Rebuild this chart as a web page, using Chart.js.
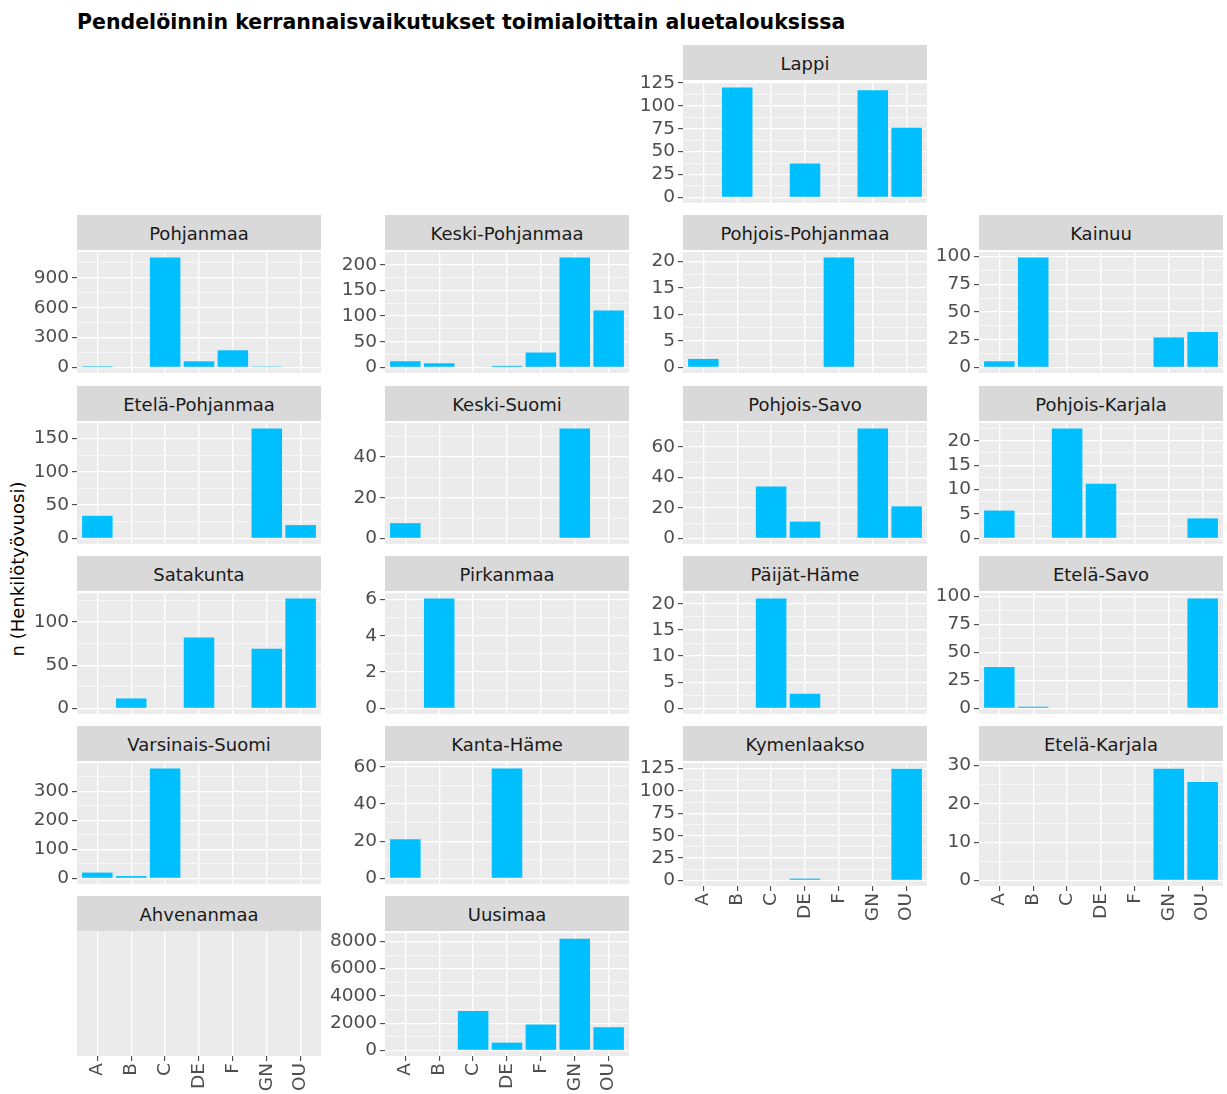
<!DOCTYPE html>
<html>
<head>
<meta charset="utf-8">
<script src="https://cdn.jsdelivr.net/npm/chart.js@4.4.1/dist/chart.umd.min.js"></script>
<style>
body { margin: 0; width: 1227px; height: 1094px; overflow: hidden; position: relative; background: #fff; font-family: 'DejaVu Sans', sans-serif; }
.strip { position: absolute; height: 35px; line-height: 37px; background: #d9d9d9; color: #1a1a1a; font-size: 18px; text-align: center; white-space: nowrap; }
canvas { position: absolute; }
#title { position: absolute; left: 77px; top: 9px; line-height: 26px; font-size: 20.5px; font-weight: bold; color: #000; white-space: nowrap; }
#ytitle { position: absolute; left: -132px; top: 559px; width: 300px; line-height: 20px; font-size: 18px; text-align: center; color: #000; transform: rotate(-90deg); }
</style>
</head>
<body>
<div id="title">Pendelöinnin kerrannaisvaikutukset toimialoittain aluetalouksissa</div>
<div id="ytitle">n (Henkilötyövuosi)</div>
<script>
// toimialat (x-akseli)
var categories = ['A', 'B', 'C', 'DE', 'F', 'GN', 'OU']

// henkilötyövuodet per toimiala, null = ei havaintoa
var lappi            = [null, 120, null, 37, null, 117, 76]
var pohjanmaa        = [12, null, 1104, 61, 172, 10, null]
var keskiPohjanmaa   = [12, 8, null, 3, 29, 214, 111]
var pohjoisPohjanmaa = [1.6, null, null, null, 20.7, null, null]
var kainuu           = [5.5, 99, null, null, null, 27, 32]
var etelaPohjanmaa   = [34, null, null, null, null, 165, 20]
var keskiSuomi       = [7.5, null, null, null, null, 54, null]
var pohjoisSavo      = [null, null, 34, 11, null, 72, 21]
var pohjoisKarjala   = [5.7, null, 22.5, 11.2, null, null, 4.1]
var satakunta        = [null, 11.5, null, 82, null, 69, 127]
var pirkanmaa        = [null, 6.05, null, null, null, null, null]
var paijatHame       = [null, null, 21, 2.8, null, null, null]
var etelaSavo        = [37, 1.5, null, null, null, null, 98]
var varsinaisSuomi   = [20, 8, 378, null, null, null, null]
var kantaHame        = [21, null, null, 59, null, null, null]
var kymenlaakso      = [null, null, null, 2, null, null, 125]
var etelaKarjala     = [null, null, null, null, null, 29.2, 25.7]
var ahvenanmaa       = [null, null, null, null, null, null, null]
var uusimaa          = [null, null, 2900, 570, 1900, 8200, 1700]

var regions = ['Lappi', 'Pohjanmaa', 'Keski-Pohjanmaa', 'Pohjois-Pohjanmaa', 'Kainuu',
    'Etelä-Pohjanmaa', 'Keski-Suomi', 'Pohjois-Savo', 'Pohjois-Karjala',
    'Satakunta', 'Pirkanmaa', 'Päijät-Häme', 'Etelä-Savo',
    'Varsinais-Suomi', 'Kanta-Häme', 'Kymenlaakso', 'Etelä-Karjala',
    'Ahvenanmaa', 'Uusimaa']
var regionValues = [lappi, pohjanmaa, keskiPohjanmaa, pohjoisPohjanmaa, kainuu,
    etelaPohjanmaa, keskiSuomi, pohjoisSavo, pohjoisKarjala,
    satakunta, pirkanmaa, paijatHame, etelaSavo,
    varsinaisSuomi, kantaHame, kymenlaakso, etelaKarjala,
    ahvenanmaa, uusimaa]
// y-akselin jakoväli
var yStep = [25, 300, 50, 5, 25, 50, 20, 20, 5, 50, 2, 5, 25, 100, 20, 25, 10, null, 2000]

// paikka ruudukossa [rivi, sarake]
var gridPos = [[0, 2], [1, 0], [1, 1], [1, 2], [1, 3],
    [2, 0], [2, 1], [2, 2], [2, 3],
    [3, 0], [3, 1], [3, 2], [3, 3],
    [4, 0], [4, 1], [4, 2], [4, 3],
    [5, 0], [5, 1]]

var colLeft = [77, 385, 683, 979]
var rowTop = [45, 215, 386, 556, 726, 896]
var PLOT_W = 244, PLOT_H = 125, STRIP_H = 35
var AXIS_W = 62, PAD = 12, XLAB_H = 48

var panelBg = {
    id: 'panelBg',
    beforeDraw: function(chart) {
        var a = chart.chartArea
        var ctx = chart.ctx
        ctx.save()
        ctx.fillStyle = '#ebebeb'
        ctx.fillRect(a.left, a.top, a.right - a.left, a.bottom - a.top)
        ctx.restore()
    }
}

Chart.defaults.font.family = "'DejaVu Sans', sans-serif"
Chart.defaults.font.size = 18.5
Chart.defaults.color = '#4d4d4d'

function isBottom(i) {
    var r = gridPos[i][0], c = gridPos[i][1]
    return !gridPos.some(p => p[1] == c && p[0] > r)
}

function buildYTicks(top, step) {
    var t = []
    if (!step) return t
    for (var v = 0; v <= top; v += step) t.push({value: v})
    for (var v = step / 2; v <= top; v += step) t.push({value: v, minor: true})
    return t.sort((a, b) => a.value - b.value)
}

function createPanel(i) {
    var row = gridPos[i][0], col = gridPos[i][1]
    var left = colLeft[col], top = rowTop[row]
    var bottom = isBottom(i)

    var strip = document.createElement('div')
    strip.className = 'strip'
    strip.style.left = left + 'px'
    strip.style.top = top + 'px'
    strip.style.width = PLOT_W + 'px'
    strip.textContent = regions[i]
    document.body.appendChild(strip)

    var canvas = document.createElement('canvas')
    var w = PLOT_W + AXIS_W + PAD
    var h = PLOT_H + PAD + (bottom ? XLAB_H : PAD)
    canvas.width = w
    canvas.height = h
    canvas.style.width = w + 'px'
    canvas.style.height = h + 'px'
    canvas.style.left = (left - AXIS_W) + 'px'
    canvas.style.top = (top + STRIP_H - PAD) + 'px'
    document.body.appendChild(canvas)

    var vals = regionValues[i]
    var hasData = vals.some(v => v != null)
    var dmax = Math.max(0, ...vals.filter(v => v != null))

    new Chart(canvas, {
        type: 'bar',
        data: {
            datasets: [{
                data: vals.map((v, k) => ({x: k + 1, y: v})),
                backgroundColor: '#00BFFF',
                barPercentage: 0.9,
                categoryPercentage: 1
            }]
        },
        options: {
            responsive: false,
            animation: false,
            layout: {padding: {top: PAD, right: PAD, bottom: bottom ? 0 : PAD, left: 0}},
            plugins: {legend: {display: false}, tooltip: {enabled: false}},
            scales: {
                x: {
                    type: 'linear',
                    min: 0.4,
                    max: 7.6,
                    offset: false,
                    afterBuildTicks: s => { s.ticks = categories.map((c, k) => ({value: k + 1})) },
                    afterFit: s => { s.height = bottom ? XLAB_H : 0 },
                    border: {display: false},
                    grid: {offset: false, color: '#fff', lineWidth: 1.3, drawTicks: bottom, tickLength: 5, tickColor: '#333', tickWidth: 1},
                    ticks: {
                        display: bottom, autoSkip: false, minRotation: 90, maxRotation: 90, padding: 2,
                        callback: v => categories[v - 1]
                    }
                },
                y: {
                    min: hasData ? -0.05 * dmax : 0,
                    max: hasData ? 1.05 * dmax : 1,
                    afterBuildTicks: s => { s.ticks = buildYTicks(1.05 * dmax, yStep[i]) },
                    afterFit: s => { s.width = AXIS_W },
                    border: {display: false},
                    grid: {
                        display: hasData,
                        color: '#fff',
                        lineWidth: c => c.tick && c.tick.minor ? 0.6 : 1.3,
                        tickLength: 5,
                        tickColor: c => c.tick && c.tick.minor ? 'rgba(0,0,0,0)' : '#333',
                        tickWidth: 1
                    },
                    ticks: {
                        display: hasData, autoSkip: false, padding: 3,
                        callback: (v, k, ticks) => ticks[k].minor ? '' : v
                    }
                }
            }
        },
        plugins: [panelBg]
    })
}

regions.forEach((r, i) => createPanel(i))
</script>
</body>
</html>
